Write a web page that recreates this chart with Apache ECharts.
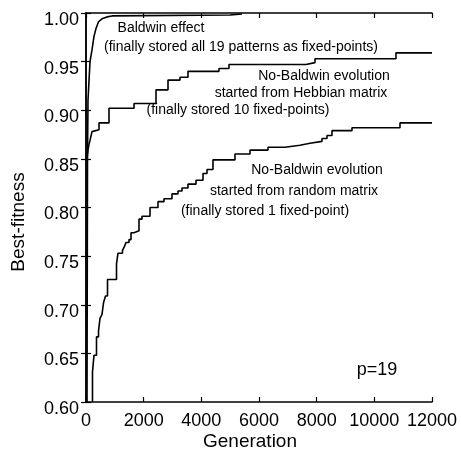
<!DOCTYPE html>
<html><head><meta charset="utf-8">
<script src="https://cdn.jsdelivr.net/npm/echarts@6/dist/echarts.min.js"></script>
<style>html,body{margin:0;padding:0;background:#fff}#c{width:461px;height:454px}</style>
</head><body><div id="c"></div>
<script>
// Baldwin effect run
const baldwinGen = [35, 52, 69, 139, 208, 277, 347, 434, 555, 728, 902, 4994, 5410];
const baldwinFit = [0.600, 0.849, 0.910, 0.950, 0.962, 0.976, 0.984, 0.991, 0.994, 0.996, 0.997, 0.998, 0.999];
// No-Baldwin, started from Hebbian matrix
const hebbGen = [0, 35, 69, 104, 139, 208, 277, 451, 798, 1665, 2428, 2844, 3260, 3537, 4612, 4959, 7630, 7942, 10751, 12000];
const hebbFit = [0.848, 0.851, 0.859, 0.865, 0.869, 0.878, 0.880, 0.887, 0.902, 0.907, 0.921, 0.931, 0.934, 0.940, 0.943, 0.947, 0.949, 0.953, 0.959, 0.959];
// No-Baldwin, started from random matrix
const randGen = [225, 225, 277, 364, 434, 486, 555, 607, 676, 746, 1058, 1110, 1266, 1335, 1387, 1491, 1561, 1665, 1838, 1942, 2220, 2497, 2705, 2982, 3190, 3329, 3537, 3815, 4057, 4196, 4404, 5167, 5688, 6312, 6901, 7422, 7769, 8184, 8358, 8531, 9225, 10890, 12000];
const randFit = [0.600, 0.631, 0.648, 0.667, 0.673, 0.686, 0.690, 0.702, 0.709, 0.726, 0.742, 0.753, 0.756, 0.760, 0.764, 0.767, 0.774, 0.776, 0.788, 0.791, 0.800, 0.806, 0.809, 0.814, 0.817, 0.820, 0.824, 0.828, 0.835, 0.839, 0.849, 0.855, 0.859, 0.862, 0.864, 0.866, 0.868, 0.871, 0.874, 0.879, 0.882, 0.887, 0.887];

const xTickLabels = ['0', '2000', '4000', '6000', '8000', '10000', '12000'];
const yTickLabels = ['0.60', '0.65', '0.70', '0.75', '0.80', '0.85', '0.90', '0.95', '1.00'];
const xTitle = 'Generation';
const yTitle = 'Best-fitness';
const notes = [
  'Baldwin effect',
  '(finally stored all 19 patterns as fixed-points)',
  'No-Baldwin evolution',
  'started from Hebbian matrix',
  '(finally stored 10 fixed-points)',
  'No-Baldwin evolution',
  'started from random matrix',
  '(finally stored 1 fixed-point)',
  'p=19'
];

const FONT = '"Liberation Sans", Arial, sans-serif';
const zip = (a, b) => a.map((v, i) => [v, b[i]]);

const notePos = [[161, 28], [241, 47.5], [324, 76.5], [301, 93], [238, 110], [317, 170], [294, 191.5], [265, 211.5], [377, 370]];
const noteSize = [14, 14, 14, 14, 14, 14, 14, 14, 18];

const chart = echarts.init(document.getElementById('c'), null, {renderer: 'canvas'});
const lineStyle = {color: '#000', width: 1.6};
const axisCommon = {
  axisLine: {show: true, lineStyle: {color: '#000', width: 1.5}},
  axisTick: {show: true, inside: true, length: 5, lineStyle: {color: '#000', width: 1.2}},
  splitLine: {show: false}
};
const txt = (t, x, y, size, rot) => ({
  type: 'text', x: x, y: y, rotation: rot || 0, z: 10,
  style: {text: t, fill: '#000', font: size + 'px ' + FONT,
    textAlign: 'center', textVerticalAlign: 'middle', align: 'center', verticalAlign: 'middle'}
});
chart.setOption({
  backgroundColor: '#fff',
  animation: false,
  grid: {left: 86, right: 29, top: 13, bottom: 52},
  xAxis: [
    Object.assign({type: 'value', min: 0, max: 12000, interval: 2000, position: 'bottom',
      axisLabel: {color: '#000', fontFamily: FONT, fontSize: 18, margin: 10,
        formatter: v => xTickLabels[Math.round(v / 2000)]}}, axisCommon),
    Object.assign({type: 'value', min: 0, max: 12000, interval: 2000, position: 'top',
      axisLabel: {show: false}}, axisCommon)
  ],
  yAxis: [
    Object.assign({type: 'value', min: 0.6, max: 1.0, interval: 0.05, position: 'left',
      axisLabel: {color: '#000', fontFamily: FONT, fontSize: 18, margin: 7,
        verticalAlign: 'top', lineHeight: 14,
        formatter: v => yTickLabels[Math.round((v - 0.6) / 0.05)]}}, axisCommon),
    Object.assign({type: 'value', min: 0.6, max: 1.0, interval: 0.05, position: 'right',
      axisLabel: {show: false}}, axisCommon)
  ],
  series: [
    {type: 'line', data: zip(baldwinGen, baldwinFit), showSymbol: false, lineStyle: lineStyle, z: 3},
    {type: 'line', step: 'end', data: zip(hebbGen, hebbFit), showSymbol: false, lineStyle: lineStyle, z: 3},
    {type: 'line', step: 'end', data: zip(randGen, randFit), showSymbol: false, lineStyle: lineStyle, z: 3}
  ],
  graphic: notes.map((t, i) => txt(t, notePos[i][0], notePos[i][1], noteSize[i]))
    .concat([txt(xTitle, 250, 442, 19), txt(yTitle, 19, 222, 19, Math.PI / 2)])
});
</script>
</body></html>
